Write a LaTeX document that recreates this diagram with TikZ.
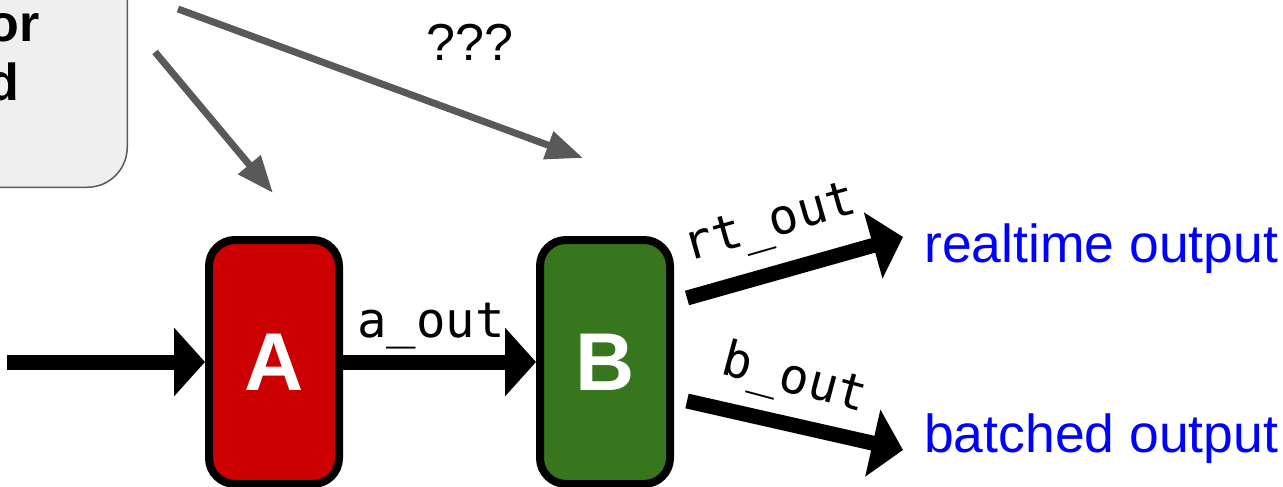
\documentclass[tikz,border=0pt]{standalone}
\usepackage{fontspec}
\setmainfont{Liberation Sans}
\newfontfamily\portfont{DejaVu Sans Mono}
\usetikzlibrary{arrows.meta,calc}
\definecolor{stagered}{HTML}{CC0000}
\definecolor{stagegreen}{HTML}{38761D}
\definecolor{hintgray}{HTML}{595959}
\definecolor{boxfill}{HTML}{EFEFEF}
\definecolor{outblue}{HTML}{0000FF}
\begin{document}
\begin{tikzpicture}[x=1pt,y=-1pt,
  stage/.style={draw=black, line width=8pt, rounded corners=26pt,
    minimum width=130pt, minimum height=244pt, inner sep=0pt, text=white,
    font=\fontsize{82}{90}\selectfont\bfseries},
  flow/.style={line width=15pt, -{Triangle[length=31pt,width=67pt]}},
  hint/.style={draw=hintgray, line width=7pt, -{Triangle[length=37pt,width=28pt]}},
  srcbox/.style={draw=hintgray, line width=1.5pt, fill=boxfill, rounded corners=40pt, inner sep=0pt},
  srctext/.style={inner sep=0pt, font=\fontsize{52}{60}\selectfont\bfseries},
  plain/.style={inner sep=0pt, font=\fontsize{52}{60}\selectfont},
  outtext/.style={inner sep=0pt, text=outblue, font=\fontsize{53.5}{60}\selectfont},
  port/.style={inner sep=0pt, font=\fontsize{49}{56}\portfont},
]
\useasboundingbox (0,0) rectangle (1283,487);
\clip (0,0) rectangle (1283,487);

% source box in the upper left
\node[srcbox, anchor=south east, minimum width=320pt, minimum height=320pt] (src) at (128,188) {};
\node[srctext, anchor=base east] (srcl1) at (40,42) {or};
\node[srctext, anchor=base east] (srcl2) at (19,100) {d};

% processing stages
\node[stage, fill=stagered] (A) at (274,362) {A};
\node[stage, fill=stagegreen] (B) at (605,362) {B};

% outputs
\node[outtext, anchor=base west] (rt) at (924,262) {realtime output};
\node[outtext, anchor=base west] (bt) at (924,452) {batched output};

% question label
\node[plain, anchor=base] (q) at (470,60) {???};

% hint arrows from the source box
\coordinate (g1) at (155,52);
\coordinate (g2) at (178,9);
\coordinate (gA) at ($(A.north)+(-1,-43)$);
\coordinate (gB) at ($(B.north)+(-22,-78)$);
\draw[hint] (g1) -- (gA);
\draw[hint] (g2) -- (gB);

% data flow
\coordinate (in) at (7,362);
\draw[flow] (in) -- (A.west);
\draw[flow] (A.east) -- (B.west);
\node[port, anchor=base] (aout) at (431,337) {a\_out};

\coordinate (rtS) at ($(B.east)+(13,-64)$);
\coordinate (rtE) at ($(rt.base west)+(-21,-25)$);
\draw[flow] (rtS) -- (rtE);
\node[port, anchor=base, rotate=16] (rtout) at (774,237) {rt\_out};

\coordinate (btS) at ($(B.east)+(13,39)$);
\coordinate (btE) at ($(bt.base west)+(-21,-2)$);
\draw[flow] (btS) -- (btE);
\node[port, anchor=base, rotate=-15] (bout) at (791,393) {b\_out};
\end{tikzpicture}
\end{document}
